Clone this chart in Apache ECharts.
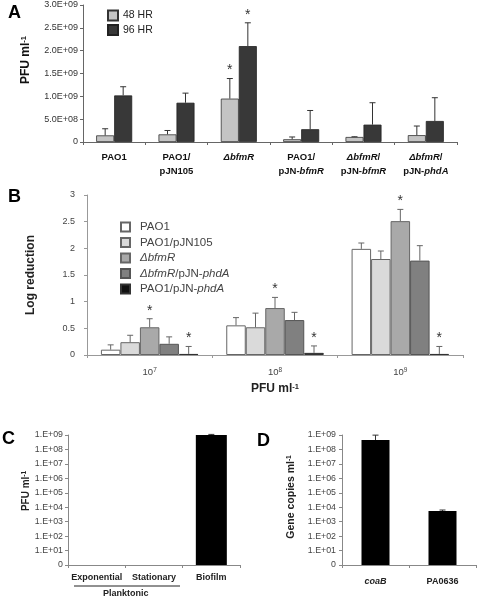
<!DOCTYPE html>
<html><head><meta charset="utf-8">
<script src="https://cdn.jsdelivr.net/npm/echarts@6/dist/echarts.min.js"></script>
<style>html,body{margin:0;padding:0;background:#fff}#c{width:478px;height:599px}</style>
</head><body><div id="c"></div>
<script>
// ---------- Panel A ----------
const catsA = ['PAO1', 'PAO1/\npJN105', 'ΔbfmR', 'PAO1/\npJN-bfmR', 'ΔbfmR/\npJN-bfmR', 'ΔbfmR/\npJN-phdA'];
const namesA = ['48 HR', '96 HR'];
const valA48 = [1.45e8, 1.67e8, 9.5e8, 6.0e7, 1.1e8, 1.5e8];
const errA48 = [1.45e8, 0.85e8, 4.4e8, 5.0e7, 0.05e8, 2.0e8];
const starA48 = [0, 0, 1, 0, 0, 0];
const valA96 = [1.02e9, 8.6e8, 2.1e9, 2.8e8, 3.8e8, 4.6e8];
const errA96 = [1.9e8, 2.1e8, 5.1e8, 4.1e8, 4.8e8, 5.1e8];
const starA96 = [0, 0, 1, 0, 0, 0];
const ticksA = ['0', '5.0E+08', '1.0E+09', '1.5E+09', '2.0E+09', '2.5E+09', '3.0E+09'];

// ---------- Panel B ----------
const catsB = ['10^7', '10^8', '10^9'];
const namesB = ['PAO1', 'PAO1/pJN105', 'ΔbfmR', 'ΔbfmR/pJN-phdA', 'PAO1/pJN-phdA'];
const valB1 = [0.10, 0.556, 1.99];
const errB1 = [0.09, 0.145, 0.11];
const valB2 = [0.24, 0.52, 1.80];
const errB2 = [0.13, 0.265, 0.15];
const valB3 = [0.52, 0.88, 2.51];
const errB3 = [0.16, 0.20, 0.22];
const valB4 = [0.21, 0.655, 1.77];
const errB4 = [0.13, 0.145, 0.28];
const valB5 = [0.02, 0.04, 0.02];
const errB5 = [0.14, 0.13, 0.14];
const starB = [[0,0,0],[0,0,0],[1,1,1],[0,0,0],[1,1,1]];

// ---------- Panel C ----------
const catsC = ['Exponential', 'Stationary', 'Biofilm'];
const valC = [0, 0, 1.0e9];
const errC = [0, 0, 1.0e8];
const ticksLog = ['0', '1.E+01', '1.E+02', '1.E+03', '1.E+04', '1.E+05', '1.E+06', '1.E+07', '1.E+08', '1.E+09'];

// ---------- Panel D ----------
const catsD = ['coaB', 'PA0636'];
const valD = [4.5e8, 5.5e3];
const errD = [5.3e8, 0.9e3];

const FONT = "'Liberation Sans', Arial, sans-serif";
const lg = v => v > 1 ? Math.log10(v) : 0;

function errRender(idx, n, bw, color, cap) {
  return function (params, api) {
    const ci = api.value(0), v = api.value(1), t = api.value(2), s = api.value(3);
    if (!(t > v)) return null;
    const b = api.coord([ci, v]);
    const p = api.coord([ci, t]);
    const x = b[0] + (idx - (n - 1) / 2) * bw;
    const ch = [
      {type: 'line', shape: {x1: x, y1: b[1], x2: x, y2: p[1]}, style: {stroke: color, lineWidth: 1}},
      {type: 'line', shape: {x1: x - cap, y1: p[1], x2: x + cap, y2: p[1]}, style: {stroke: color, lineWidth: 1}}
    ];
    if (s) ch.push({type: 'text', style: {text: '*', x: x, y: p[1] - 1, align: 'center', verticalAlign: 'bottom',
      fontSize: 14, fontFamily: FONT, fill: '#333'}});
    return {type: 'group', children: ch};
  };
}
function errSeries(xi, cats, vals, tops, stars, idx, n, bw, color, cap) {
  return {
    type: 'custom', xAxisIndex: xi, yAxisIndex: xi, z: 5,
    renderItem: errRender(idx, n, bw, color, cap),
    data: cats.map((c, i) => [i, vals[i], tops[i], stars[i]])
  };
}
const italRe = /(Δ?bfmR|phdA)/g;
function richA(v) {
  return v.split('\n').map(line => line.split(italRe).filter(s => s).map(s =>
    /^(Δ?bfmR|phdA)$/.test(s) ? '{bi|' + s + '}' : '{b|' + s + '}').join('')).join('\n');
}

const bwA = 18, bwB = 19.5;
const axisCommon = (color) => ({
  axisLine: {show: true, lineStyle: {color: color, width: 1}},
  axisTick: {show: true, length: 3, lineStyle: {color: color}},
  splitLine: {show: false}
});

const option = {
  animation: false,
  textStyle: {fontFamily: FONT},
  grid: [
    {left: 83, top: 5, width: 374, height: 137},
    {left: 87, top: 195, width: 376, height: 160},
    {left: 68, top: 435, width: 172, height: 130},
    {left: 342, top: 435, width: 134, height: 130}
  ],
  legend: [
    {data: namesA, orient: 'vertical', left: 107, top: 9.5, padding: 0, icon: 'rect', itemWidth: 10, itemHeight: 10, itemGap: 2.5,
     textStyle: {fontSize: 10.5, color: '#222', fontFamily: FONT}},
    {data: namesB, orient: 'vertical', left: 120, top: 221, padding: 0, icon: 'rect', itemWidth: 9, itemHeight: 9, itemGap: 3.5,
     formatter: n => n.split(italRe).filter(s => s).map(s => /^(Δ?bfmR|phdA)$/.test(s) ? '{i|' + s + '}' : '{r|' + s + '}').join(''),
     textStyle: {fontSize: 11.5, color: '#444', fontFamily: FONT, padding: [0, 0, 0, 5],
       rich: {r: {fontSize: 11.5, color: '#444', fontFamily: FONT}, i: {fontSize: 11.5, color: '#444', fontStyle: 'italic', fontFamily: FONT}}}}
  ],
  xAxis: [
    Object.assign({gridIndex: 0, type: 'category', data: catsA,
      axisLabel: {margin: 8, interval: 0, formatter: richA, lineHeight: 14,
        rich: {b: {fontWeight: 'bold', fontSize: 9.5, color: '#111', fontFamily: FONT, lineHeight: 14},
               bi: {fontWeight: 'bold', fontStyle: 'italic', fontSize: 9.5, color: '#111', fontFamily: FONT, lineHeight: 14}}}},
      axisCommon('#666')),
    Object.assign({gridIndex: 1, type: 'category', data: catsB,
      name: '{t|PFU ml}{s|-1}', nameLocation: 'middle', nameGap: 28,
      nameTextStyle: {rich: {t: {fontWeight: 'bold', fontSize: 12, color: '#222', fontFamily: FONT},
                             s: {fontWeight: 'bold', fontSize: 7.5, color: '#222', fontFamily: FONT, verticalAlign: 'top', lineHeight: 8}}},
      axisLabel: {margin: 12, formatter: v => { const p = v.split('^'); return '{n|' + p[0] + '}{s|' + p[1] + '}'; },
        rich: {n: {fontSize: 9.5, color: '#444', fontFamily: FONT}, s: {fontSize: 6.5, color: '#444', fontFamily: FONT, verticalAlign: 'top', lineHeight: 6}}}},
      axisCommon('#999')),
    Object.assign({gridIndex: 2, type: 'category', data: catsC,
      axisLabel: {margin: 8, interval: 0, fontWeight: 'bold', fontSize: 9, color: '#222'}},
      axisCommon('#888')),
    Object.assign({gridIndex: 3, type: 'category', data: catsD,
      axisLabel: {margin: 12, interval: 0, fontWeight: 'bold', fontSize: 9, color: '#222',
        formatter: v => v === 'coaB' ? '{bi|coaB}' : '{b|' + v + '}',
        rich: {b: {fontWeight: 'bold', fontSize: 9, color: '#222', fontFamily: FONT},
               bi: {fontWeight: 'bold', fontStyle: 'italic', fontSize: 9, color: '#222', fontFamily: FONT}}}},
      axisCommon('#888'))
  ],
  yAxis: [
    Object.assign({gridIndex: 0, type: 'value', min: 0, max: 3e9, interval: 5e8,
      name: '{t|PFU ml}{s|-1}', nameLocation: 'middle', nameRotate: 90, nameGap: 51,
      nameTextStyle: {padding: [0, 0, 0, 27], rich: {t: {fontWeight: 'bold', fontSize: 12, color: '#111', fontFamily: FONT},
                             s: {fontWeight: 'bold', fontSize: 7.5, color: '#111', fontFamily: FONT, verticalAlign: 'top', lineHeight: 8}}},
      axisLabel: {margin: 5, fontSize: 9, color: '#333', formatter: (v, i) => ticksA[i]}},
      axisCommon('#666')),
    Object.assign({gridIndex: 1, type: 'value', min: 0, max: 3, interval: 0.5,
      name: 'Log reduction', nameLocation: 'middle', nameRotate: 90, nameGap: 50,
      nameTextStyle: {fontWeight: 'bold', fontSize: 12, color: '#222'},
      axisLabel: {margin: 12, fontSize: 9, color: '#444'}},
      axisCommon('#999')),
    Object.assign({gridIndex: 2, type: 'value', min: 0, max: 9, interval: 1,
      name: '{t|PFU ml}{s|-1}', nameLocation: 'middle', nameRotate: 90, nameGap: 37,
      nameTextStyle: {padding: [0, 0, 0, 18], rich: {t: {fontWeight: 'bold', fontSize: 10, color: '#222', fontFamily: FONT},
                             s: {fontWeight: 'bold', fontSize: 6.5, color: '#222', fontFamily: FONT, verticalAlign: 'top', lineHeight: 6}}},
      axisLabel: {margin: 5, fontSize: 8.8, color: '#444', formatter: (v, i) => ticksLog[i]}},
      axisCommon('#888')),
    Object.assign({gridIndex: 3, type: 'value', min: 0, max: 9, interval: 1,
      name: '{t|Gene copies ml}{s|-1}', nameLocation: 'middle', nameRotate: 90, nameGap: 45,
      nameTextStyle: {padding: [0, 0, 0, 6], rich: {t: {fontWeight: 'bold', fontSize: 10.5, color: '#222', fontFamily: FONT},
                             s: {fontWeight: 'bold', fontSize: 6.5, color: '#222', fontFamily: FONT, verticalAlign: 'top', lineHeight: 6}}},
      axisLabel: {margin: 6, fontSize: 8.8, color: '#444', formatter: (v, i) => ticksLog[i]}},
      axisCommon('#888'))
  ],
  series: [
    {name: namesA[0], type: 'bar', xAxisIndex: 0, yAxisIndex: 0, barWidth: bwA, barGap: '0%', data: valA48,
     itemStyle: {color: '#c4c4c4', borderColor: '#333', borderWidth: 0.8}},
    {name: namesA[1], type: 'bar', xAxisIndex: 0, yAxisIndex: 0, barWidth: bwA, barGap: '0%', data: valA96,
     itemStyle: {color: '#383838', borderColor: '#222', borderWidth: 0.8}},
    errSeries(0, catsA, valA48, valA48.map((v, i) => v + errA48[i]), starA48, 0, 2, bwA, '#333', 3),
    errSeries(0, catsA, valA96, valA96.map((v, i) => v + errA96[i]), starA96, 1, 2, bwA, '#333', 3),

    {name: namesB[0], type: 'bar', xAxisIndex: 1, yAxisIndex: 1, barWidth: bwB, barGap: '0%', data: valB1,
     itemStyle: {color: '#ffffff', borderColor: '#666', borderWidth: 1}},
    {name: namesB[1], type: 'bar', xAxisIndex: 1, yAxisIndex: 1, barWidth: bwB, barGap: '0%', data: valB2,
     itemStyle: {color: '#dadada', borderColor: '#666', borderWidth: 1}},
    {name: namesB[2], type: 'bar', xAxisIndex: 1, yAxisIndex: 1, barWidth: bwB, barGap: '0%', data: valB3,
     itemStyle: {color: '#a9a9a9', borderColor: '#666', borderWidth: 1}},
    {name: namesB[3], type: 'bar', xAxisIndex: 1, yAxisIndex: 1, barWidth: bwB, barGap: '0%', data: valB4,
     itemStyle: {color: '#808080', borderColor: '#555', borderWidth: 1}},
    {name: namesB[4], type: 'bar', xAxisIndex: 1, yAxisIndex: 1, barWidth: bwB, barGap: '0%', data: valB5,
     itemStyle: {color: '#111111', borderColor: '#333', borderWidth: 1}},
    errSeries(1, catsB, valB1, valB1.map((v, i) => v + errB1[i]), starB[0], 0, 5, bwB, '#666', 3),
    errSeries(1, catsB, valB2, valB2.map((v, i) => v + errB2[i]), starB[1], 1, 5, bwB, '#666', 3),
    errSeries(1, catsB, valB3, valB3.map((v, i) => v + errB3[i]), starB[2], 2, 5, bwB, '#666', 3),
    errSeries(1, catsB, valB4, valB4.map((v, i) => v + errB4[i]), starB[3], 3, 5, bwB, '#666', 3),
    errSeries(1, catsB, valB5, valB5.map((v, i) => v + errB5[i]), starB[4], 4, 5, bwB, '#666', 3),

    {name: 'C', type: 'bar', xAxisIndex: 2, yAxisIndex: 2, barWidth: 31, data: valC.map(lg),
     itemStyle: {color: '#000'}},
    errSeries(2, catsC, valC.map(lg), valC.map((v, i) => lg(v + errC[i])), [0, 0, 0], 0, 1, 31, '#333', 3),
    {name: 'D', type: 'bar', xAxisIndex: 3, yAxisIndex: 3, barWidth: 28, data: valD.map(lg),
     itemStyle: {color: '#000'}},
    errSeries(3, catsD, valD.map(lg), valD.map((v, i) => lg(v + errD[i])), [0, 0], 0, 1, 28, '#333', 3)
  ],
  graphic: [
    {type: 'text', left: 8, top: 4, style: {text: 'A', fontSize: 18, fontWeight: 'bold', fontFamily: FONT, fill: '#000'}},
    {type: 'text', left: 8, top: 188, style: {text: 'B', fontSize: 18, fontWeight: 'bold', fontFamily: FONT, fill: '#000'}},
    {type: 'text', left: 2, top: 430, style: {text: 'C', fontSize: 18, fontWeight: 'bold', fontFamily: FONT, fill: '#000'}},
    {type: 'text', left: 257, top: 432, style: {text: 'D', fontSize: 18, fontWeight: 'bold', fontFamily: FONT, fill: '#000'}},
    {type: 'line', shape: {x1: 74, y1: 586, x2: 180, y2: 586}, style: {stroke: '#222', lineWidth: 1}},
    {type: 'text', left: 103, top: 589, style: {text: 'Planktonic', fontSize: 9, fontWeight: 'bold', fontFamily: FONT, fill: '#222'}}
  ]
};
const chart = echarts.init(document.getElementById('c'), null, {renderer: 'canvas'});
chart.setOption(option);
</script></body></html>
